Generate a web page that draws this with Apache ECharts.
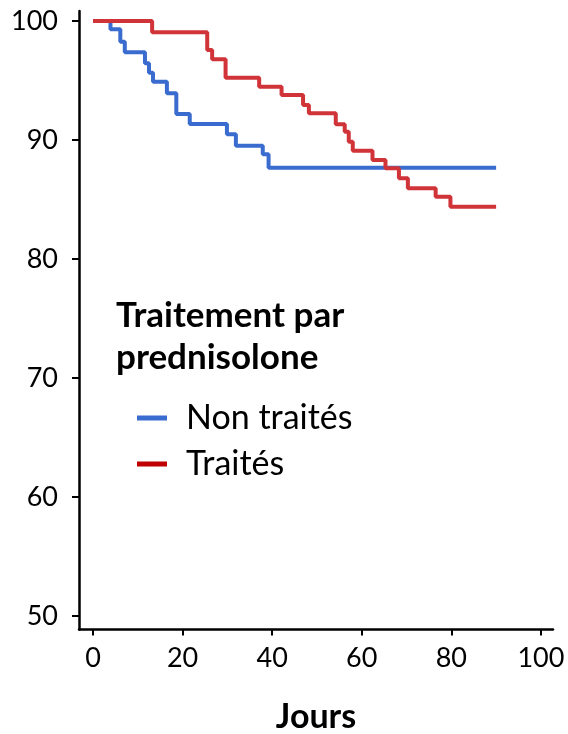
<!DOCTYPE html>
<html>
<head>
<meta charset="utf-8">
<style>
html,body{margin:0;padding:0;background:#fff;}
#chart{width:568px;height:734px;}
</style>
<script src="https://cdn.jsdelivr.net/npm/echarts@6/dist/echarts.min.js"></script>
</head>
<body>
<div id="chart"></div>
<script>
const seriesNames = ['Non traités', 'Traités'];
const nonTraitesDays = [0, 3.9, 6.1, 7.1, 11.6, 12.5, 13.4, 16.5, 18.6, 21.6, 29.9, 31.9, 37.9, 39.2, 90];
const nonTraitesSurv = [100, 99.30, 98.26, 97.37, 96.45, 95.66, 94.90, 93.92, 92.18, 91.34, 90.48, 89.52, 88.80, 87.67, 87.67];
const traitesDays = [0, 13.2, 25.5, 26.6, 29.6, 37.1, 42.1, 46.9, 48.2, 54.2, 56.2, 57.1, 58.0, 62.4, 65.3, 68.3, 70.3, 76.5, 79.8, 90];
const traitesSurv = [100, 99.05, 97.56, 96.78, 95.24, 94.48, 93.78, 92.94, 92.24, 91.32, 90.70, 89.86, 89.10, 88.32, 87.62, 86.78, 85.94, 85.24, 84.39, 84.39];
const xTicks = [0, 20, 40, 60, 80, 100];
const yTicks = [50, 60, 70, 80, 90, 100];
const legendTitle = 'Traitement par\nprednisolone';
const xAxisTitle = 'Jours';

const FONT = 'Lato';
const BLUE = '#3A6BCF';
const RED = '#D13438';

const zip = (a, b) => a.map((v, i) => [v, b[i]]);

const chart = echarts.init(document.getElementById('chart'), null, {renderer: 'canvas'});
chart.setOption({
  animation: false,
  backgroundColor: '#fff',
  textStyle: {fontFamily: FONT},
  title: {
    text: legendTitle,
    left: 116,
    top: 295,
    padding: 0,
    textStyle: {fontFamily: FONT, fontWeight: 'bold', fontSize: 35, lineHeight: 42, color: '#000'}
  },
  legend: {
    orient: 'vertical',
    left: 137,
    top: 398,
    padding: 0,
    itemGap: 6,
    itemWidth: 30,
    itemHeight: 5,
    icon: 'rect',
    textStyle: {fontFamily: FONT, fontSize: 34, lineHeight: 40, color: '#000', padding: [0, 0, 0, 14]},
    data: [
      {name: seriesNames[0], itemStyle: {color: BLUE}},
      {name: seriesNames[1], itemStyle: {color: '#C00000'}}
    ]
  },
  grid: {left: 79, right: 15, top: 11, bottom: 104.5, containLabel: false, outerBoundsMode: 'none'},
  xAxis: {
    type: 'value',
    min: -3.125,
    max: 102.7,
    name: xAxisTitle,
    nameLocation: 'middle',
    nameGap: 71,
    nameTextStyle: {fontFamily: FONT, fontWeight: 'bold', fontSize: 34, color: '#000'},
    splitLine: {show: false},
    axisLine: {show: true, onZero: false, lineStyle: {color: '#000', width: 2.5}},
    axisTick: {show: true, length: 6, lineStyle: {color: '#000', width: 2}, customValues: xTicks},
    axisLabel: {fontFamily: FONT, fontSize: 27, color: '#000', margin: 15, customValues: xTicks}
  },
  yAxis: {
    type: 'value',
    min: 48.87,
    max: 100.84,
    splitLine: {show: false},
    axisLine: {show: true, onZero: false, lineStyle: {color: '#000', width: 2.5}},
    axisTick: {show: true, length: 7, lineStyle: {color: '#000', width: 2}, customValues: yTicks},
    axisLabel: {fontFamily: FONT, fontSize: 27, color: '#000', margin: 21, customValues: yTicks}
  },
  series: [
    {
      name: seriesNames[0],
      type: 'line',
      step: 'end',
      showSymbol: false,
      data: zip(nonTraitesDays, nonTraitesSurv),
      lineStyle: {color: BLUE, width: 4},
      itemStyle: {color: BLUE},
      z: 2
    },
    {
      name: seriesNames[1],
      type: 'line',
      step: 'end',
      showSymbol: false,
      data: zip(traitesDays, traitesSurv),
      lineStyle: {color: RED, width: 4},
      itemStyle: {color: RED},
      z: 3
    }
  ]
});
</script>
</body>
</html>
